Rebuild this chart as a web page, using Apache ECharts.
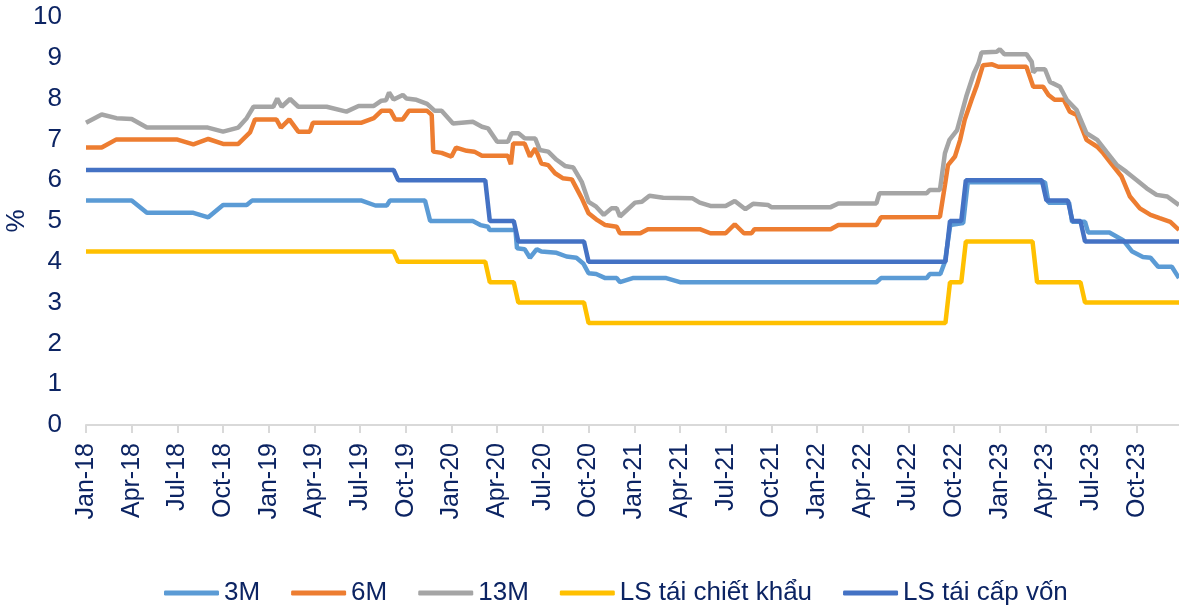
<!DOCTYPE html>
<html>
<head>
<meta charset="utf-8">
<script src="https://cdn.jsdelivr.net/npm/echarts@6/dist/echarts.min.js"></script>
<style>
  html, body { margin: 0; padding: 0; background: #fff; }
  #main { width: 1179px; height: 606px; }
</style>
</head>
<body>
<div id="main"></div>
<script>
// x = months since Jan-2018 (Jan-18 = 0)
let m3 = [
  [0,5.5],[3,5.5],[4,5.2],[7.05,5.2],[8.03,5.09],[9,5.39],[10.55,5.39],[10.9,5.5],[18.1,5.5],[19,5.38],
  [19.75,5.38],[19.96,5.5],[22.26,5.5],[22.6,5.0],[25.4,5.0],[25.9,4.9],[26.4,4.86],[26.5,4.78],[28.2,4.78],
  [28.3,4.33],[28.8,4.31],[29.15,4.1],[29.6,4.31],[29.9,4.25],[30.9,4.22],[31.55,4.13],[32.2,4.1],[32.65,3.96],
  [33,3.72],[33.5,3.7],[34.1,3.6],[34.85,3.6],[35.06,3.5],[35.9,3.6],[38.1,3.6],[39,3.5],[51.9,3.5],[52.2,3.6],
  [55.2,3.6],[55.4,3.7],[56.1,3.7],[56.4,4.0],[56.75,4.9],[57.6,4.95],[57.9,5.95],[62.97,5.95],[63.2,5.45],
  [64.55,5.45],[64.75,4.98],[65.6,4.98],[65.8,4.72],[67.2,4.72],[68.1,4.53],[68.7,4.25],[69.4,4.12],[69.9,4.1],
  [70.4,3.88],[71.3,3.88],[71.77,3.6]
];
let m6 = [
  [0,6.8],[1.03,6.8],[2,7.0],[5.95,7.0],[7.05,6.88],[8.03,7.01],[9,6.89],[10,6.89],[10.77,7.17],[11.1,7.49],
  [12.5,7.49],[12.8,7.29],[13.35,7.49],[13.94,7.19],[14.7,7.19],[14.9,7.41],[18.1,7.41],[18.9,7.52],[19.4,7.7],
  [20,7.7],[20.3,7.49],[20.8,7.49],[21.2,7.7],[22.4,7.7],[22.7,7.6],[22.8,6.7],[23.35,6.67],[24,6.58],[24.3,6.8],
  [25,6.72],[25.5,6.7],[26,6.6],[27.7,6.6],[27.9,6.39],[28.05,6.9],[28.8,6.9],[29.15,6.58],[29.5,6.78],
  [29.9,6.41],[30.35,6.37],[30.8,6.17],[31.3,6.05],[31.9,6.02],[32.55,5.56],[33,5.19],[33.5,5.04],[34.1,4.9],
  [34.85,4.86],[35.06,4.7],[36.4,4.7],[36.9,4.8],[40.3,4.8],[41,4.7],[42,4.7],[42.6,4.92],[43.2,4.7],[43.7,4.7],
  [43.9,4.8],[48.9,4.8],[49.4,4.9],[51.9,4.9],[52.2,5.09],[56.07,5.1],[56.4,5.88],[56.6,6.37],[57.06,6.58],
  [57.4,6.99],[57.7,7.48],[58.15,7.97],[58.5,8.33],[58.9,8.82],[59.5,8.84],[59.9,8.78],[61.75,8.78],[62.2,8.29],
  [62.85,8.29],[63.2,8.09],[63.6,7.97],[64.2,7.97],[64.6,7.68],[65.05,7.6],[65.7,6.99],[66.4,6.82],[66.8,6.66],
  [67.4,6.37],[68,6.09],[68.55,5.6],[69.2,5.31],[69.9,5.15],[70.5,5.07],[71.2,4.98],[71.77,4.78]
];
let m13 = [
  [0,7.41],[1.03,7.61],[2,7.52],[3,7.5],[4,7.29],[8,7.29],[9,7.19],[10,7.29],[10.55,7.52],[11,7.8],[12.3,7.8],
  [12.56,8.0],[12.85,7.8],[13.4,7.99],[13.94,7.8],[15.8,7.8],[17.1,7.68],[17.9,7.82],[18.9,7.82],[19.4,7.95],
  [19.7,7.96],[19.9,8.15],[20.2,7.98],[20.8,8.09],[21.05,8.0],[21.7,7.97],[22.4,7.87],[22.9,7.7],[23.35,7.7],
  [24.1,7.39],[25.4,7.43],[26,7.31],[26.4,7.27],[27,6.94],[27.7,6.94],[27.95,7.15],[28.4,7.15],[28.8,7.03],
  [29.5,7.02],[29.8,6.74],[30.35,6.7],[30.9,6.5],[31.45,6.35],[32,6.31],[32.55,5.96],[33,5.47],[33.5,5.35],
  [34,5.15],[34.5,5.31],[34.85,5.31],[35.06,5.11],[36.05,5.45],[36.5,5.47],[37,5.62],[37.9,5.57],[39.8,5.56],
  [40.3,5.45],[41,5.37],[42,5.37],[42.6,5.49],[43.3,5.29],[43.8,5.42],[44.8,5.39],[45,5.34],[48.9,5.34],
  [49.4,5.43],[51.9,5.43],[52.1,5.68],[55.2,5.68],[55.4,5.76],[56.07,5.76],[56.4,6.66],[56.7,6.99],[57.2,7.23],
  [57.5,7.64],[57.8,8.05],[58.3,8.62],[58.6,8.86],[58.8,9.13],[59.8,9.15],[60,9.21],[60.3,9.09],[61.75,9.09],
  [62.1,8.9],[62.2,8.64],[62.4,8.72],[62.97,8.72],[63.3,8.41],[63.95,8.29],[64.4,7.97],[65.05,7.72],[65.7,7.15],
  [66.4,6.99],[67,6.7],[67.7,6.37],[68.3,6.21],[69,6.0],[69.65,5.8],[70.3,5.64],[71,5.6],[71.77,5.39]
];

// lãi suất điều hành: ngày thay đổi + mức mới
let discDates = ['2018-01-01','2019-09-16','2020-03-17','2020-05-13','2020-10-01','2022-09-23','2022-10-25','2023-03-15','2023-06-19'];
let discRates = [4.25, 4.0, 3.5, 3.0, 2.5, 3.5, 4.5, 3.5, 3.0];
let refiDates = ['2018-01-01','2019-09-16','2020-03-17','2020-05-13','2020-10-01','2022-09-23','2022-10-25','2023-04-03','2023-05-25','2023-06-19'];
let refiRates = [6.25, 6.0, 5.0, 4.5, 4.0, 5.0, 6.0, 5.5, 5.0, 4.5];

let quarterNames = ['Jan','Apr','Jul','Oct'];
let xMax = 71.77;

function toM(s) {
    let p = s.split('-').map(Number);
    let dim = new Date(p[0], p[1], 0).getDate();
    return (p[0] - 2018) * 12 + (p[1] - 1) + (p[2] - 1) / dim;
}

// weekly data in the source -> short ramp before each change
function stepLine(dates, rates) {
    let out = [];
    for (let i = 0; i < dates.length; i++) {
        let t = toM(dates[i]);
        if (i > 0) out.push([t - 0.3, rates[i - 1]]);
        out.push([t, rates[i]]);
    }
    out.push([72, rates[rates.length - 1]]);
    return out;
}

let navy = '#0c2463';
let font = 'Liberation Sans, Arial, sans-serif';

let myChart = echarts.init(document.getElementById('main'));

function mkSeries(name, data, color) {
    return {
        name: name,
        type: 'line',
        data: data,
        showSymbol: false,
        symbol: 'none',
        lineStyle: { color: color, width: 4.5 },
        itemStyle: { color: color },
        emphasis: { disabled: true }
    };
}

let option = {
    animation: false,
    backgroundColor: '#fff',
    grid: { left: 86, right: 0, top: 17, bottom: 181, outerBoundsMode: 'none', containLabel: false },
    legend: {
        left: 159,
        top: 575,
        icon: 'roundRect',
        itemWidth: 55,
        itemHeight: 5,
        itemGap: 31,
        textStyle: { color: navy, fontSize: 26, fontFamily: font },
        data: ['3M', '6M', '13M', 'LS tái chiết khẩu', 'LS tái cấp vốn']
    },
    xAxis: {
        type: 'value',
        min: 0,
        max: xMax,
        interval: 3,
        splitLine: { show: false },
        axisLine: { lineStyle: { color: '#d9d9d9', width: 2 } },
        axisTick: { length: 8, lineStyle: { color: '#d9d9d9', width: 2 } },
        axisLabel: {
            rotate: 90,
            margin: 18,
            color: navy,
            fontSize: 25,
            fontFamily: font,
            showMaxLabel: false,
            formatter: function (v) {
                if (Math.abs(v - Math.round(v)) > 1e-6 || Math.round(v) % 3 !== 0) return '';
                let n = Math.round(v);
                let yy = 18 + Math.floor(n / 12);
                return quarterNames[(n % 12) / 3] + '-' + yy;
            }
        }
    },
    yAxis: {
        type: 'value',
        min: 0,
        max: 10,
        interval: 1,
        name: '%',
        nameLocation: 'middle',
        nameRotate: 90,
        nameGap: 56,
        nameMoveOverlap: false,
        nameTextStyle: { color: navy, fontSize: 26, fontFamily: font },
        axisLine: { show: false },
        axisTick: { show: false },
        splitLine: { show: false },
        axisLabel: { margin: 24, color: navy, fontSize: 26, fontFamily: font }
    },
    series: [
        mkSeries('3M', m3, '#5b9bd5'),
        mkSeries('6M', m6, '#ed7d31'),
        mkSeries('13M', m13, '#a5a5a5'),
        mkSeries('LS tái chiết khẩu', stepLine(discDates, discRates), '#ffc000'),
        mkSeries('LS tái cấp vốn', stepLine(refiDates, refiRates), '#4472c4')
    ]
};

myChart.setOption(option);
</script>
</body>
</html>
